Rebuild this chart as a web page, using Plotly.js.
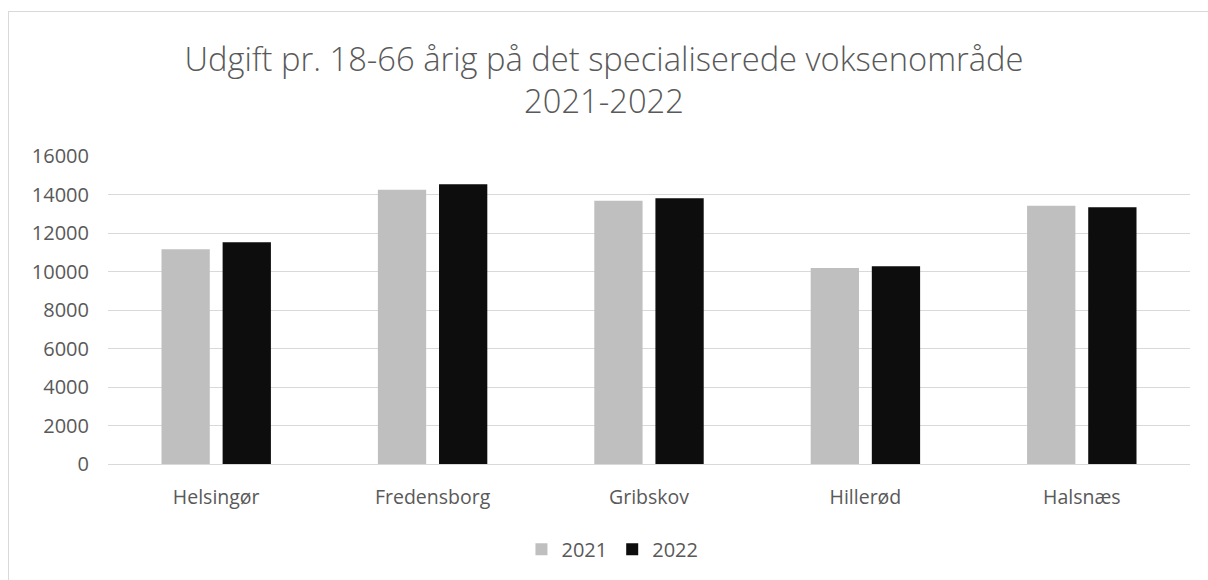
<!DOCTYPE html>
<html>
<head>
<meta charset="utf-8">
<script src="https://cdn.plot.ly/plotly-3.0.1.min.js"></script>
<style>
  html, body { margin: 0; padding: 0; background: #fff; }
  #wrap { position: relative; width: 1208px; height: 580px; overflow: hidden; }
  #chart { width: 1208px; height: 580px; }
  #frame { position: absolute; left: 8px; top: 11px; width: 1400px; height: 800px;
           border-left: 1px solid #d9d9d9; border-top: 1px solid #d9d9d9; pointer-events: none; }
</style>
</head>
<body>
<div id="wrap">
  <div id="chart"></div>
  <div id="frame"></div>
</div>
<script>
const categories = ["Helsingør", "Fredensborg", "Gribskov", "Hillerød", "Halsnæs"];
const seriesNames = ["2021", "2022"];
const values2021 = [11150, 14250, 13680, 10180, 13420];
const values2022 = [11520, 14530, 13800, 10270, 13340];
const yTicks = [0, 2000, 4000, 6000, 8000, 10000, 12000, 14000, 16000];
const titleText = "Udgift pr. 18-66 årig på det specialiserede voksenområde<br>2021-2022";

const textColor = "#595959";
const fontFamily = "'Open Sans', 'DejaVu Sans', sans-serif";

const traces = [
  { type: "bar", name: seriesNames[0], x: categories, y: values2021,
    marker: { color: "#bfbfbf" }, hoverinfo: "x+y+name" },
  { type: "bar", name: seriesNames[1], x: categories, y: values2022,
    marker: { color: "#0d0d0d" }, hoverinfo: "x+y+name" }
];

const layout = {
  width: 1208, height: 580,
  paper_bgcolor: "#ffffff", plot_bgcolor: "#ffffff",
  margin: { l: 108, r: 18, t: 156, b: 116 },
  font: { family: fontFamily, color: textColor, size: 20 },
  title: {
    text: titleText,
    font: { family: fontFamily, size: 32.7, color: textColor, weight: 300 },
    x: 0.5, xref: "container", xanchor: "center",
    y: 0.878, yref: "container", yanchor: "middle",
  },
  barmode: "group",
  bargap: 0.435,
  bargroupgap: 0.21,
  xaxis: {
    type: "category",
    showgrid: false, zeroline: false,
    showline: true, linecolor: "#d9d9d9", linewidth: 1,
    ticks: "", ticklabelstandoff: 16,
    tickfont: { family: fontFamily, size: 19.5, color: textColor },
    fixedrange: true
  },
  yaxis: {
    range: [0, 16000],
    tickvals: yTicks,
    ticktext: yTicks.map(String),
    showgrid: true, gridcolor: "#d9d9d9", gridwidth: 1,
    zeroline: false, showline: false,
    ticks: "", ticklabelstandoff: 18,
    tickfont: { family: fontFamily, size: 20, color: textColor },
    fixedrange: true
  },
  legend: {
    orientation: "h",
    x: 0.507, xref: "container", xanchor: "center",
    y: 0.053, yref: "container", yanchor: "middle",
    font: { family: fontFamily, size: 20, color: textColor },
    itemwidth: 30,
    traceorder: "normal"
  },
  showlegend: true
};

Plotly.newPlot("chart", traces, layout, { displayModeBar: false });
</script>
</body>
</html>
